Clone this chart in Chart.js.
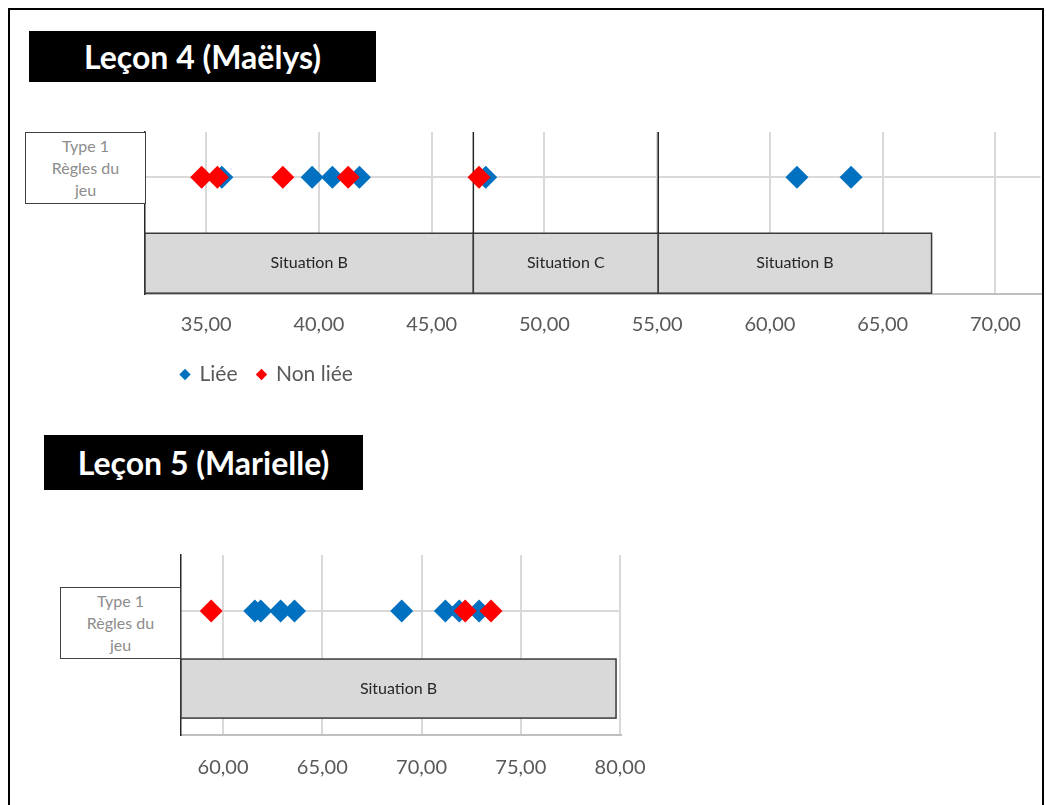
<!DOCTYPE html>
<html><head><meta charset="utf-8">
<script src="https://cdn.jsdelivr.net/npm/chart.js@4"></script>
<style>
html,body{margin:0;padding:0;background:#fff;width:1046px;height:805px;overflow:hidden;font-family:Lato,sans-serif}
#frame{position:absolute;left:8px;top:8px;width:1036px;height:830px;border:2px solid #000;box-sizing:border-box;z-index:5;pointer-events:none}
.title{position:absolute;background:#000;color:#fff;font:bold 32px Lato;display:flex;align-items:center;justify-content:center;z-index:3}
.type{position:absolute;background:#fff;border:1.5px solid #404040;box-sizing:border-box;color:#8c8c8c;font:16px Lato;line-height:22px;text-align:center;display:flex;align-items:center;justify-content:center;z-index:3}
canvas{position:absolute;left:0}
</style></head>
<body>
<canvas id="c4" width="1052" height="395" style="top:0"></canvas>
<canvas id="c5" width="1046" height="385" style="top:420px"></canvas>
<div class="title" style="left:29px;top:31px;width:347px;height:51px">Leçon 4 (Maëlys)</div>
<div class="title" style="left:44px;top:435px;width:319px;height:55px">Leçon 5 (Marielle)</div>
<div class="type" style="left:25px;top:132px;width:121px;height:72px">Type 1<br>Règles du<br>jeu</div>
<div class="type" style="left:60px;top:587px;width:121px;height:72px">Type 1<br>Règles du<br>jeu</div>
<div id="frame"></div>
<script>
// ---- Data ----
const seriesNames = ['Liée', 'Non liée'];
// Leçon 4 (Maëlys)
const lieeX4 = [35.7, 39.7, 40.6, 41.8, 47.4, 61.2, 63.6];
const nonLieeX4 = [34.8, 35.5, 38.4, 41.3, 47.1];
const ticks4 = [35, 40, 45, 50, 55, 60, 65, 70];
const sitStart4 = [32.29, 46.85, 55.05];
const sitEnd4 = [46.85, 55.05, 67.17];
const sitLabel4 = ['Situation B', 'Situation C', 'Situation B'];
// Leçon 5 (Marielle)
const lieeX5 = [61.6, 61.9, 62.9, 63.6, 69.0, 71.2, 71.9, 72.9];
const nonLieeX5 = [59.4, 72.2, 73.5];
const ticks5 = [60, 65, 70, 75, 80];
const sitStart5 = [57.88];
const sitEnd5 = [79.8];
const sitLabel5 = ['Situation B'];

const BLUE = '#0070c0', RED = '#ff0000';
const fmt = v => v.toFixed(2).replace('.', ',');

const situationPlugin = {
  id: 'situations',
  beforeDatasetsDraw(chart, args, o) {
    const {ctx, chartArea} = chart;
    const xs = chart.scales.x, ys = chart.scales.y;
    const top = ys.getPixelForValue(o.yTop), bot = ys.getPixelForValue(o.yBottom);
    ctx.save();
    o.starts.forEach((s, i) => {
      const x1 = xs.getPixelForValue(s), x2 = xs.getPixelForValue(o.ends[i]);
      ctx.fillStyle = '#d9d9d9';
      ctx.fillRect(x1, top, x2 - x1, bot - top);
      ctx.strokeStyle = '#3a3a3a'; ctx.lineWidth = 1.5;
      ctx.strokeRect(x1, top, x2 - x1, bot - top);
      ctx.fillStyle = '#262626'; ctx.font = '16px Lato';
      ctx.textAlign = 'center'; ctx.textBaseline = 'middle';
      ctx.fillText(o.labels[i], (x1 + x2) / 2, (top + bot) / 2);
    });
    if (o.dividers) {
      o.starts.slice(1).forEach(v => {
        const x = xs.getPixelForValue(v);
        ctx.strokeStyle = '#262626'; ctx.lineWidth = 1.5;
        ctx.beginPath(); ctx.moveTo(x, chartArea.top); ctx.lineTo(x, top); ctx.stroke();
      });
    }
    ctx.restore();
  },
  afterLayout(chart, args, o) {
    if (o.legendShift && chart.legend) {
      chart.legend.left += o.legendShift;
      chart.legend.right += o.legendShift;
    }
  }
};

function makeChart(id, lx, nx, ticks, xmin, xmax, row, sit, padding, xH, tickPad, showLegend) {
  return new Chart(document.getElementById(id), {
    type: 'scatter',
    data: {
      datasets: [
        { label: seriesNames[0], data: lx.map(x => ({x, y: row})), backgroundColor: BLUE, borderWidth: 0,
          pointStyle: 'rectRot', pointRadius: 11.5, pointHoverRadius: 11.5, order: 1 },
        { label: seriesNames[1], data: nx.map(x => ({x, y: row})), backgroundColor: RED, borderWidth: 0,
          pointStyle: 'rectRot', pointRadius: 11.5, pointHoverRadius: 11.5, order: 0 }
      ]
    },
    options: {
      responsive: false, animation: false, events: [],
      layout: { padding },
      scales: {
        x: {
          type: 'linear', min: xmin, max: xmax,
          afterBuildTicks: s => { s.ticks = ticks.map(v => ({value: v})); },
          afterFit: s => { s.height = xH; },
          ticks: { callback: v => fmt(v), color: '#595959', font: {family: 'Lato', size: 20}, padding: tickPad, maxRotation: 0, autoSkip: false },
          grid: { color: '#d9d9d9', lineWidth: 2, drawTicks: false },
          border: { color: '#bfbfbf', width: 2 }
        },
        y: {
          type: 'linear', min: 0, max: 1,
          afterBuildTicks: s => { s.ticks = [{value: row}]; },
          afterFit: s => { s.width = 0; },
          ticks: { display: false },
          grid: { color: '#d9d9d9', lineWidth: 2, drawTicks: false },
          border: { color: '#262626', width: 1.5 }
        }
      },
      plugins: {
        tooltip: { enabled: false },
        legend: {
          display: showLegend, position: 'bottom', align: 'start',
          labels: { usePointStyle: true, boxWidth: 8, boxHeight: 8, padding: 20, color: '#595959',
                    font: {family: 'Lato', size: 21}, sort: (a, b) => a.datasetIndex - b.datasetIndex }
        },
        situations: sit
      }
    },
    plugins: [situationPlugin]
  });
}

makeChart('c4', lieeX4, nonLieeX4, ticks4, 32.29, 72.0, 0.72,
  { starts: sitStart4, ends: sitEnd4, labels: sitLabel4, yTop: 0.375, yBottom: 0.005, dividers: true, legendShift: 16 },
  { left: 145, top: 132, right: 6, bottom: 0 }, 50, 19, true);

makeChart('c5', lieeX5, nonLieeX5, ticks5, 57.88, 80.05, 0.689,
  { starts: sitStart5, ends: sitEnd5, labels: sitLabel5, yTop: 0.422, yBottom: 0.094, dividers: false, legendShift: 0 },
  { left: 181, top: 135, right: 425, bottom: 20 }, 50, 21, false);
</script>
</body></html>
